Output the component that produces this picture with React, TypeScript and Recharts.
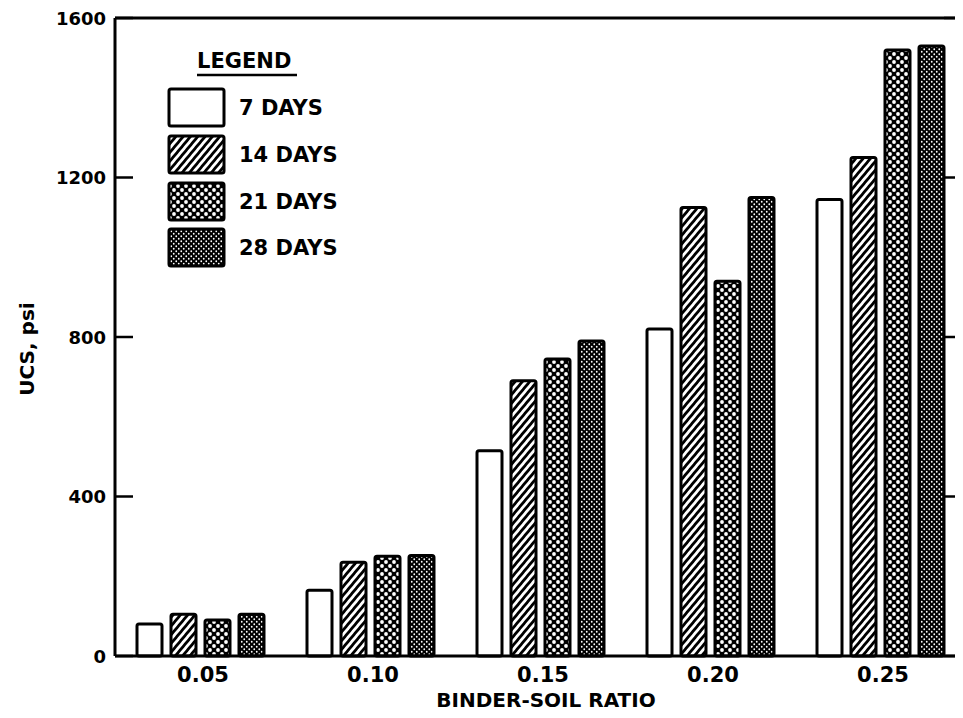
import React from 'react';
import { BarChart, Bar, XAxis, YAxis, ReferenceLine, CartesianGrid } from 'recharts';

const categories = ['0.05', '0.10', '0.15', '0.20', '0.25'];
const days7 = [80, 165, 515, 820, 1145];
const days14 = [105, 235, 690, 1125, 1250];
const days21 = [90, 250, 745, 940, 1520];
const days28 = [105, 252, 790, 1150, 1530];
const yTicks = [0, 400, 800, 1200, 1600];
const seriesNames = ['7 DAYS', '14 DAYS', '21 DAYS', '28 DAYS'];
const seriesKeys = ['d7', 'd14', 'd21', 'd28'];
const seriesFills = ['#ffffff', 'url(#hatch14)', 'url(#dots21)', 'url(#dots28)'];

const data = categories.map((c, i) => ({
  cat: c,
  d7: days7[i],
  d14: days14[i],
  d21: days21[i],
  d28: days28[i],
}));

const FONT = '"DejaVu Sans", Verdana, sans-serif';
const CHART_W = 967;
const MARGIN_L = 7;
const YAXIS_W = 100;
const RAXIS_W = 10;
const PLOT_W = CHART_W - MARGIN_L - YAXIS_W - RAXIS_W;

const LeftTick = (props: any) => {
  const x = Number(props.x);
  const y = Number(props.y);
  return (
    <text x={x} y={y} textAnchor="end" dominantBaseline="central" fontFamily={FONT} fontWeight="bold" fontSize={18} fill="#000">
      {props.payload.value}
    </text>
  );
};

const XTick = (props: any) => {
  const { x, y, payload } = props;
  return (
    <text x={Number(x) + 3} y={y} dy={18} textAnchor="middle" fontFamily={FONT} fontWeight="bold" fontSize={21} fill="#000">
      {payload.value}
    </text>
  );
};

const GridTicks = (p: any) => {
  const x2 = Number(p.x2);
  const xl = x2 - PLOT_W;
  const y = Number(p.y1);
  return (
    <g key={p.key}>
      <path d={`M${xl},${y}H${xl + 18}`} stroke="#000" strokeWidth={2.5} fill="none" />
      <path d={`M${x2},${y}H${x2 - 21}`} stroke="#000" strokeWidth={2.5} fill="none" />
    </g>
  );
};

const LegendBox = () => (
  <svg width={240} height={240} style={{ display: 'block', overflow: 'visible' }}>
    <text x={37} y={28} fontFamily={FONT} fontWeight="bold" fontSize={21} fill="#000">LEGEND</text>
    <line x1={37} x2={137} y1={35} y2={35} stroke="#000" strokeWidth={2.5} />
    {seriesNames.map((n, i) => {
      const top = [49, 96, 143, 189][i];
      return (
        <g key={n}>
          <rect x={9} y={top} width={55} height={37} rx={2} fill={seriesFills[i]} stroke="#000" strokeWidth={3} />
          <text x={79} y={top + 19} dominantBaseline="central" fontFamily={FONT} fontWeight="bold" fontSize={21} fill="#000">
            {n}
          </text>
        </g>
      );
    })}
  </svg>
);

export default function App() {
  return (
    <div style={{ position: 'relative', width: 955, height: 710, marginBottom: -8, overflow: 'hidden', background: '#fff' }}>
      <BarChart
        width={CHART_W}
        height={710}
        data={data}
        margin={{ top: 10, right: 0, bottom: 0, left: MARGIN_L }}
        barSize={25}
        barGap={9}
      >
        <defs>
          <pattern id="hatch14" patternUnits="userSpaceOnUse" width={5.6} height={5.6} patternTransform="rotate(40)">
            <rect width={5.6} height={5.6} fill="#fff" />
            <line x1={1.4} x2={1.4} y1={0} y2={5.6} stroke="#000" strokeWidth={2.8} />
          </pattern>
          <pattern id="dots21" patternUnits="userSpaceOnUse" width={8} height={8}>
            <rect width={8} height={8} fill="#000" />
            <circle cx={2} cy={2} r={1.9} fill="#fff" />
            <circle cx={6} cy={6} r={1.9} fill="#fff" />
          </pattern>
          <pattern id="dots28" patternUnits="userSpaceOnUse" width={5} height={5}>
            <rect width={5} height={5} fill="#000" />
            <circle cx={1.25} cy={1.25} r={0.9} fill="#fff" />
            <circle cx={3.75} cy={3.75} r={0.9} fill="#fff" />
          </pattern>
        </defs>
        <CartesianGrid yAxisId="left" vertical={false} horizontal={GridTicks} />
        <XAxis
          dataKey="cat"
          height={62}
          axisLine={{ stroke: '#000', strokeWidth: 3 }}
          tickLine={false}
          tick={<XTick />}
          interval={0}
          label={(p: any) => {
            const vb = p.viewBox || {};
            return (
              <text x={546 - 8} y={vb.y + 51} textAnchor="middle" fontFamily={FONT} fontWeight="bold" fontSize={20} fill="#000">
                BINDER-SOIL RATIO
              </text>
            );
          }}
        />
        <YAxis
          yAxisId="left"
          width={YAXIS_W}
          domain={[0, 1600]}
          ticks={yTicks}
          interval={0}
          axisLine={{ stroke: '#000', strokeWidth: 3 }}
          tickLine={false}
          tickSize={0}
          tickMargin={9}
          tick={<LeftTick />}
          label={() => {
            const cx = 19;
            const cy = 349 - 8;
            return (
              <text x={cx} y={cy} transform={`rotate(-90 ${cx} ${cy})`} textAnchor="middle" dominantBaseline="central" fontFamily={FONT} fontWeight="bold" fontSize={20} fill="#000">
                UCS, psi
              </text>
            );
          }}
        />
        <YAxis
          yAxisId="right"
          orientation="right"
          width={RAXIS_W}
          domain={[0, 1600]}
          ticks={yTicks}
          interval={0}
          axisLine={{ stroke: '#000', strokeWidth: 3 }}
          tickLine={false}
          tick={false}
        />
        <ReferenceLine yAxisId="left" y={1600} stroke="#000" strokeWidth={3} />
        {seriesKeys.map((k, i) => (
          <Bar
            key={k}
            yAxisId="left"
            dataKey={k}
            name={seriesNames[i]}
            fill={seriesFills[i]}
            stroke="#000"
            strokeWidth={3}
            radius={2}
            isAnimationActive={false}
          />
        ))}
      </BarChart>
      <div style={{ position: 'absolute', left: 152, top: 32 }}>
        <LegendBox />
      </div>
    </div>
  );
}
